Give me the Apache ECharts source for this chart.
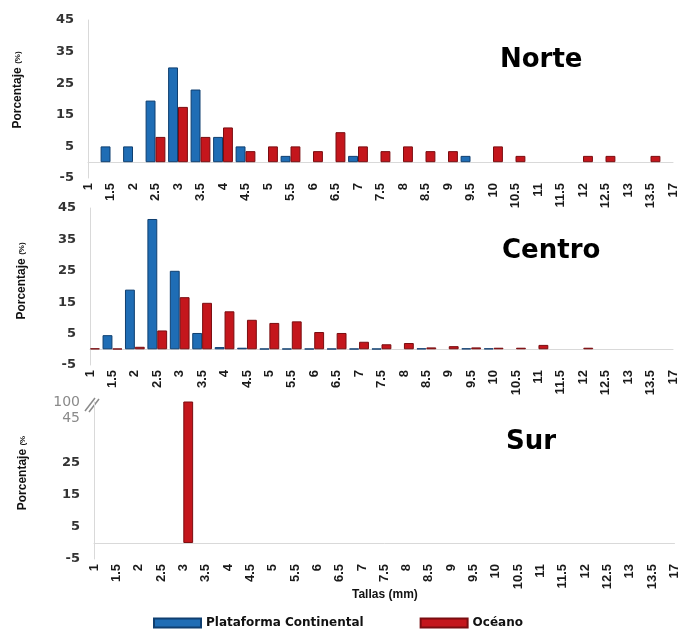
<!DOCTYPE html>
<html><head><meta charset="utf-8">
<script src="https://cdn.jsdelivr.net/npm/echarts@6/dist/echarts.min.js"></script>
<style>html,body{margin:0;padding:0;background:#fff}#c{width:681px;height:631px}</style>
</head><body><div id="c"></div>
<script>
const categories = ['1','1.5','2','2.5','3','3.5','4','4.5','5','5.5','6','6.5','7','7.5','8','8.5','9','9.5','10','10.5','11','11.5','12','12.5','13','13.5','17'];

const norteBlue = [0,5,5,19.5,30,23,8,5,0,2,0,0,2,0,0,0,0,2,0,0,0,0,0,0,0,0,0];
const norteRed  = [0,0,0,8,17.5,8,11,3.5,5,5,3.5,9.5,5,3.5,5,3.5,3.5,0,5,2,0,0,2,2,0,2,0];

const centroBlue = [0,4.5,19,41.5,25,5.2,0.7,0.5,0.2,0.2,0.2,0.2,0.2,0.2,0,0.3,0,0.3,0.3,0,0,0,0,0,0,0,0];
const centroRed  = [0.3,0.2,0.8,6,16.6,14.8,12.1,9.4,8.4,8.9,5.5,5.2,2.4,1.6,2.0,0.6,1.0,0.6,0.5,0.5,1.4,0,0.5,0,0,0,0];

const surBlue = [0,0,0,0,0,0,0,0,0,0,0,0,0,0,0,0,0,0,0,0,0,0,0,0,0,0,0];
const surRed  = [0,0,0,0,100,0,0,0,0,0,0,0,0,0,0,0,0,0,0,0,0,0,0,0,0,0,0];

const yTickValues = [-5,5,15,25,35,45];
// Sur panel uses a broken axis: the top two labels are placed at compressed positions
const surTickValues = [-5,5,15,25,38.75,44];
const surTickLabels = ['-5','5','15','25','45','100'];

const seriesNames = ['Plataforma Continental','Océano'];
const panelTitles = ['Norte','Centro','Sur'];

const BLUE = '#1f6db5', BLUE_B = '#0f3f70';
const RED = '#c4161c', RED_B = '#7a0d10';

const chart = echarts.init(document.getElementById('c'), null, {renderer:'canvas'});

const grids = [
  {left:88, right:8, top:20, height:158},
  {left:90, right:8, top:208, height:157},
  {left:94, right:4, top:402, height:157}
];

const clean = arr => arr.map(v => v === 0 ? null : v);

const xAxes = grids.map((g,i) => ({
  type:'category', gridIndex:i, data:categories, boundaryGap:false,
  axisLine:{onZero:true, lineStyle:{color:'#d9d9d9', width:1}},
  axisTick:{show:false},
  splitLine:{show:false},
  axisLabel:{rotate:90, interval:0, fontSize:13, fontWeight:'bold', fontFamily:'Liberation Sans', color:'#1a1a1a', margin:5}
}));

const yLabelStyle = {fontSize:13, fontWeight:'bold', fontFamily:'DejaVu Sans', color:'#333', margin:14};

const yAxes = [0,1,2].map(i => {
  const ax = {
    type:'value', gridIndex:i, min:-5, max: i===2 ? 44 : 45,
    axisLine:{show:true, lineStyle:{color:'#d9d9d9', width:1}},
    axisTick:{show:false}, splitLine:{show:false},
    axisLabel:Object.assign({}, yLabelStyle, {customValues: i===2 ? surTickValues : yTickValues})
  };
  if (i===2) {
    ax.axisLabel.formatter = v => {
      const k = surTickValues.indexOf(v);
      const t = k >= 0 ? surTickLabels[k] : String(v);
      return k >= 4 ? '{g|' + t + '}' : t;
    };
    ax.axisLabel.rich = {g:{color:'#8a8a8a', fontWeight:'normal', fontSize:14, fontFamily:'DejaVu Sans'}};
  }
  return ax;
});

const dataSets = [[norteBlue,norteRed],[centroBlue,centroRed],[surBlue,surRed]];
const series = [];
dataSets.forEach((pair,i) => {
  series.push({
    type:'bar', name:seriesNames[0], xAxisIndex:i, yAxisIndex:i, data:clean(pair[0]),
    barGap:'0%', barCategoryGap:'12%', clip:true,
    itemStyle:{color:BLUE, borderColor:BLUE_B, borderWidth:1}
  });
  series.push({
    type:'bar', name:seriesNames[1], xAxisIndex:i, yAxisIndex:i, data:clean(pair[1]),
    barGap:'0%', barCategoryGap:'12%', clip:true,
    itemStyle:{color:RED, borderColor:RED_B, borderWidth:1}
  });
});

const titleFont = {fontSize:26, fontWeight:'bold', fontFamily:'DejaVu Sans', color:'#000'};
const titles = [
  {text:panelTitles[0], left:500, top:47, padding:0, textStyle:titleFont},
  {text:panelTitles[1], left:502, top:238, padding:0, textStyle:titleFont},
  {text:panelTitles[2], left:506, top:429, padding:0, textStyle:titleFont},
  {text:'Tallas (mm)', left:352, top:589, padding:0, textStyle:{fontSize:12, fontWeight:'bold', fontFamily:'Liberation Sans', color:'#111'}}
];

const yName = (x, y, label) => ({
  type:'text', x:x, y:y, rotation:Math.PI/2,
  style:{
    text:'{a|Porcentaje} {b|' + label + '}',
    rich:{
      a:{fontSize:12, fontWeight:'bold', fontFamily:'Liberation Sans', fill:'#111', color:'#111'},
      b:{fontSize:8, fontWeight:'bold', fontFamily:'Liberation Sans', fill:'#111', color:'#111'}
    },
    align:'center', verticalAlign:'middle'
  }
});

const graphic = [
  yName(18, 90, '(%)'),
  yName(22, 281, '(%)'),
  yName(23, 473, '(%'),
  {type:'line', shape:{x1:85, y1:411, x2:95, y2:398}, style:{stroke:'#8a8a8a', lineWidth:1.5}},
  {type:'line', shape:{x1:89, y1:412, x2:99, y2:399}, style:{stroke:'#8a8a8a', lineWidth:1.5}}
];

chart.setOption({
  animation:false,
  backgroundColor:'#fff',
  title:titles,
  grid:grids,
  xAxis:xAxes,
  yAxis:yAxes,
  series:series,
  graphic:graphic,
  legend:{
    data:seriesNames, left:153, top:617, padding:0, itemWidth:47, itemHeight:9, itemGap:56,
    icon:'rect',
    textStyle:{fontSize:12, fontWeight:'bold', fontFamily:'DejaVu Sans', color:'#111'}
  }
});
</script></body></html>
